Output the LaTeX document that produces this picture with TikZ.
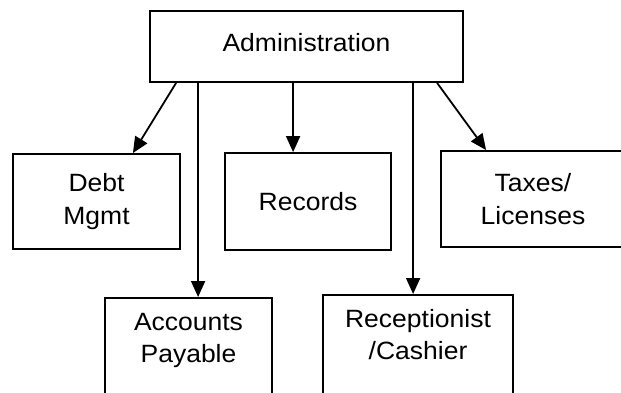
\documentclass[tikz,border=0pt]{standalone}
\usepackage{fontspec}
\setmainfont{Liberation Sans}[FakeStretch=1.06]
\usetikzlibrary{arrows.meta,calc}
\begin{document}
\begin{tikzpicture}[x=1pt,y=-1pt,
  box/.style={draw=black,line width=1.8pt,rectangle,inner sep=0pt,align=center,
    font=\fontsize{25}{32.5}\selectfont},
  lbl/.style={inner sep=0pt,align=center,font=\fontsize{25}{32.5}\selectfont},
  conn/.style={line width=1.8pt,-{Triangle[length=16pt,width=14pt]}}]
\useasboundingbox (0,0) rectangle (621,392);
\node[box,minimum width=313pt,minimum height=71pt,text depth=9pt] (admin) at (306.5,46.5) {Administration};
\node[box,minimum width=167pt,minimum height=95pt] (debt) at (96.5,201.5) {Debt\\Mgmt};
\node[box,minimum width=166pt,minimum height=97pt] (rec) at (308,201.5) {Records};
\node[box,minimum width=184pt,minimum height=96pt] (tax) at (533,199) {Taxes/\\Licenses};
\node[box,minimum width=167pt,minimum height=110pt,anchor=north] (ap) at (188.5,297) {};
\node[box,minimum width=190pt,minimum height=110pt,anchor=north] (cash) at (418,294) {};
\node[lbl,anchor=north] (aptext) at ($(ap.north)+(0,16)$) {Accounts\\Payable};
\node[lbl,anchor=north] (cashtext) at ($(cash.north)+(0,15)$) {Receptionist\\/Cashier};
\draw[conn] ($(admin.south west)+(27,0)$) -- ($(debt.north east)+(-48,0)$);
\draw[conn] ($(admin.south west)+(49,0)$) -- (ap.north -| {$(admin.south west)+(49,0)$});
\draw[conn] ($(admin.south west)+(144,0)$) -- (rec.north -| {$(admin.south west)+(144,0)$});
\draw[conn] ($(admin.south west)+(264,0)$) -- (cash.north -| {$(admin.south west)+(264,0)$});
\draw[conn] ($(admin.south west)+(288,0)$) -- ($(tax.north west)+(46,0)$);
\end{tikzpicture}
\end{document}
